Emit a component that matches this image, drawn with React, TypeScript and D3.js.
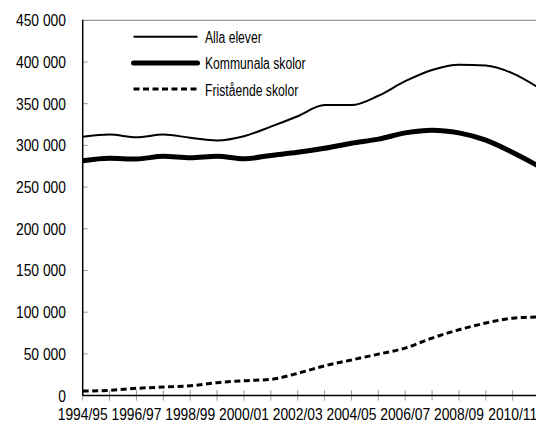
import React from "react";
import * as d3 from "d3";

const years = [
  "1994/95", "1995/96", "1996/97", "1997/98", "1998/99", "1999/00",
  "2000/01", "2001/02", "2002/03", "2003/04", "2004/05", "2005/06",
  "2006/07", "2007/08", "2008/09", "2009/10", "2010/11", "2011/12",
];
const allaElever = [
  310500, 313000, 309700, 313000, 309200, 306000, 311000, 322500, 335000,
  348300, 348300, 359500, 377000, 390500, 396800, 395700, 386400, 368500,
];
const kommunala = [
  281500, 284500, 283700, 287000, 285300, 287000, 284000, 288000, 291700,
  296500, 302500, 307500, 315000, 318300, 315000, 306300, 291500, 274500,
];
const fristaende = [
  5500, 6300, 8700, 10300, 11800, 15500, 17900, 19500, 26700,
  35700, 42700, 49700, 57000, 69000, 79000, 87000, 92800, 94300,
];
const yTicks = [0, 50000, 100000, 150000, 200000, 250000, 300000, 350000, 400000, 450000];
const xTickLabels = ["1994/95", "1996/97", "1998/99", "2000/01", "2002/03", "2004/05", "2006/07", "2008/09", "2010/11"];

const seriesNames = ["Alla elever", "Kommunala skolor", "Fristående skolor"];

const W = 536;
const H = 427;
const FONT = "'Liberation Sans', Arial, sans-serif";

export default function App() {
  const x0 = 82.7;
  const step = 26.875;
  const x = d3.scaleLinear().domain([0, years.length - 1]).range([x0, x0 + step * (years.length - 1)]);
  const y = d3.scaleLinear().domain([0, 450000]).range([395.6, 20.3]);
  const fmt = (v: number) => d3.format(",")(v).replace(/,/g, " ");

  const line = d3
    .line<number>()
    .x((_, i) => x(i))
    .y((d) => y(d))
    .curve(d3.curveMonotoneX);

  const series = [
    { name: seriesNames[0], data: allaElever, width: 2, dash: undefined as string | undefined },
    { name: seriesNames[1], data: kommunala, width: 5, dash: undefined },
    { name: seriesNames[2], data: fristaende, width: 3, dash: "6 3.5" },
  ];

  const xAxisEnd = 540;
  const y0 = y(0);

  return (
    <svg
      width={W}
      height={H}
      style={{ position: "absolute", left: 0, top: 0, background: "#fff" }}
      fontFamily={FONT}
    >
      <rect x={0} y={0} width={W} height={H} fill="#fff" />
      {/* top gridline */}
      <line x1={x0} x2={xAxisEnd} y1={y(450000)} y2={y(450000)} stroke="#999" strokeWidth={1.2} />
      {/* y ticks */}
      {yTicks.map((t) => (
        <g key={t}>
          {t > 0 && t < 450000 && (
            <line x1={x0} x2={x0 + 5} y1={y(t)} y2={y(t)} stroke="#999" strokeWidth={1} />
          )}
          <g transform={`translate(66,${y(t)}) scale(0.84,1)`}>
            <text x={0} y={0} textAnchor="end" dominantBaseline="central" fontSize={16.5} fill="#000">
              {fmt(t)}
            </text>
          </g>
        </g>
      ))}
      {/* x ticks */}
      {years.map((yr, i) => (
        <line key={yr} x1={x(i)} x2={x(i)} y1={y0 - 5.5} y2={y0 + 5} stroke="#999" strokeWidth={1} />
      ))}
      {years.map((yr, i) =>
        xTickLabels.includes(yr) ? (
          <g key={"l" + yr} transform={`translate(${x(i)},420) scale(0.84,1)`}>
            <text x={0} y={0} textAnchor="middle" fontSize={16.5} fill="#000">
              {yr}
            </text>
          </g>
        ) : null
      )}
      {/* lines */}
      {series.map((s) => (
        <path
          key={s.name}
          d={line(s.data) || ""}
          fill="none"
          stroke="#000"
          strokeWidth={s.width}
          strokeDasharray={s.dash}
          strokeLinejoin="round"
        />
      ))}
      {/* axes */}
      <line x1={x0} x2={x0} y1={y(450000) - 0.5} y2={y0} stroke="#000" strokeWidth={1.5} />
      <line x1={x0} x2={xAxisEnd} y1={y0} y2={y0} stroke="#000" strokeWidth={1.5} />
      {/* legend */}
      {series.map((s, i) => {
        const ly = 36.7 + i * 26.2;
        return (
          <g key={"lg" + s.name}>
            <line
              x1={133.5}
              x2={197.5}
              y1={ly}
              y2={ly}
              stroke="#000"
              strokeWidth={s.width}
              strokeDasharray={s.dash}
              strokeLinecap={i === 1 ? "round" : "butt"}
            />
            <g transform={`translate(205,${ly + 0.8}) scale(0.76,1)`}>
              <text x={0} y={0} dominantBaseline="central" fontSize={16} fill="#000">
                {s.name}
              </text>
            </g>
          </g>
        );
      })}
    </svg>
  );
}
